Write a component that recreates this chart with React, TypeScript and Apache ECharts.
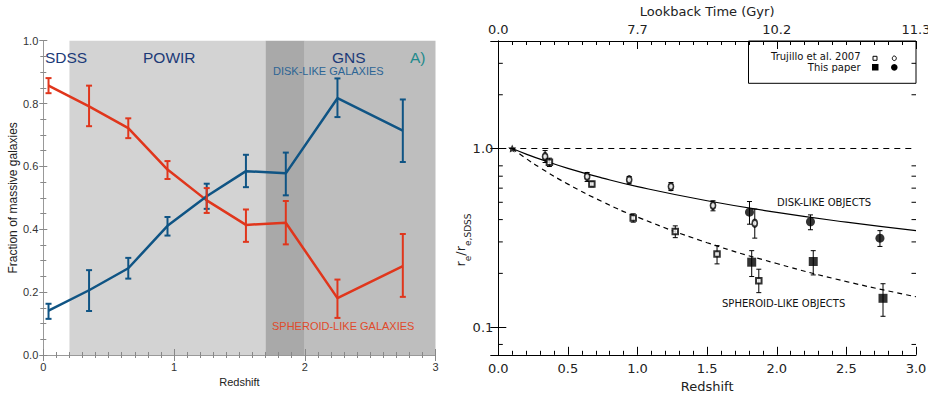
import React, { useEffect, useRef } from "react";
import * as echarts from "echarts";

// ---------- Left panel: fraction of massive galaxies ----------
const leftZ = [0.04, 0.35, 0.65, 0.95, 1.25, 1.55, 1.855, 2.25, 2.75];
const spheroidFrac = [0.857, 0.791, 0.722, 0.59, 0.492, 0.414, 0.421, 0.181, 0.283];
const spheroidLo = [0.833, 0.728, 0.69, 0.56, 0.452, 0.36, 0.352, 0.118, 0.185];
const spheroidHi = [0.881, 0.857, 0.753, 0.617, 0.531, 0.463, 0.49, 0.24, 0.385];
const diskFrac = [0.141, 0.206, 0.276, 0.411, 0.505, 0.585, 0.578, 0.817, 0.714];
const diskLo = [0.115, 0.14, 0.243, 0.38, 0.465, 0.534, 0.508, 0.757, 0.614];
const diskHi = [0.163, 0.27, 0.309, 0.439, 0.545, 0.637, 0.644, 0.88, 0.813];
const surveyBands = [
  { from: 0.2, to: 1.7, color: "#d3d3d3" },
  { from: 1.7, to: 2.0, color: "#a9a9a9" },
  { from: 2.0, to: 3.0, color: "#bebebe" },
];

// ---------- Right panel: size evolution ----------
const truDiskZ = [0.336, 0.638, 0.94, 1.24, 1.542, 1.842];
const truDiskR = [0.902, 0.697, 0.668, 0.612, 0.48, 0.382];
const truDiskLo = [0.835, 0.654, 0.634, 0.582, 0.448, 0.315];
const truDiskHi = [0.974, 0.734, 0.697, 0.645, 0.51, 0.458];
const truSphZ = [0.367, 0.672, 0.969, 1.271, 1.571, 1.871];
const truSphR = [0.839, 0.632, 0.409, 0.343, 0.257, 0.182];
const truSphLo = [0.793, 0.61, 0.387, 0.317, 0.226, 0.156];
const truSphHi = [0.883, 0.655, 0.431, 0.369, 0.286, 0.211];
const ourDiskZ = [1.804, 2.242, 2.741];
const ourDiskR = [0.44, 0.389, 0.315];
const ourDiskLo = [0.377, 0.351, 0.283];
const ourDiskHi = [0.505, 0.425, 0.347];
const ourSphZ = [1.82, 2.262, 2.763];
const ourSphR = [0.231, 0.233, 0.145];
const ourSphLo = [0.192, 0.196, 0.115];
const ourSphHi = [0.268, 0.268, 0.175];
const fitZ = [0.1, 0.2, 0.3, 0.5, 0.75, 1.0, 1.5, 2.0, 2.5, 3.0];
const diskFit = [1.0, 0.931, 0.872, 0.775, 0.683, 0.612, 0.51, 0.439, 0.387, 0.347];
const sphFit = [1.0, 0.879, 0.781, 0.632, 0.503, 0.413, 0.297, 0.227, 0.18, 0.148];
const sdssRef = [[0.1, 1.0]];
const lookbackLabels = ["0.0", "7.7", "10.2", "11.3"];
const logMinorTicks = [0.08, 0.2, 0.3, 0.4, 0.5, 0.6, 0.7, 0.8, 2, 3];

const LF = "'Liberation Sans', Arial, sans-serif";
const RF = "'DejaVu Sans', sans-serif";
const RED = "#e0361c";
const BLUE = "#0f5484";
const STAR = "path://M0,-10L2.9,-4L9.5,-3.1L4.8,1.5L5.9,8.1L0,5L-5.9,8.1L-4.8,1.5L-9.5,-3.1L-2.9,-4Z";

function errSeries(xIdx: number, yIdx: number, zs: number[], lo: number[], hi: number[], color: string, width: number, cap: number, z: number) {
  return {
    type: "custom",
    xAxisIndex: xIdx,
    yAxisIndex: yIdx,
    z,
    silent: true,
    data: zs.map((x, i) => [x, lo[i], hi[i]]),
    encode: { x: 0, y: [1, 2] },
    renderItem: (_p: any, api: any) => {
      const x = api.value(0);
      const a = api.coord([x, api.value(1)]);
      const b = api.coord([x, api.value(2)]);
      const st = { stroke: color, lineWidth: width };
      return {
        type: "group",
        children: [
          { type: "line", shape: { x1: a[0], y1: a[1], x2: b[0], y2: b[1] }, style: st },
          { type: "line", shape: { x1: a[0] - cap, y1: a[1], x2: a[0] + cap, y2: a[1] }, style: st },
          { type: "line", shape: { x1: b[0] - cap, y1: b[1], x2: b[0] + cap, y2: b[1] }, style: st },
        ],
      };
    },
  };
}

function txt(text: string, x: number, y: number, size: number, color: string, family: string, align = "left") {
  return {
    type: "text",
    x,
    y,
    z: 20,
    silent: true,
    style: {
      text,
      fontSize: size,
      fontFamily: family,
      fill: color,
      align,
      verticalAlign: "middle",
      textAlign: align,
      textVerticalAlign: "middle",
    },
  };
}

export default function App() {
  const ref = useRef<HTMLDivElement>(null);
  useEffect(() => {
    if (!ref.current) return;
    const chart = echarts.init(ref.current, null, { renderer: "svg" });
    const grayLine = { lineStyle: { color: "#999", width: 1 } };
    const grayTick = (len: number) => ({ show: true, inside: true, length: len, lineStyle: { color: "#888" } });
    const blackTick = (len: number) => ({ show: true, inside: true, length: len, lineStyle: { color: "#000", width: 1 } });
    const leftLabel = { color: "#333", fontSize: 11, fontFamily: LF, showMinLabel: true, showMaxLabel: true, hideOverlap: false };
    const rightLabel = { color: "#222", fontSize: 13, fontFamily: RF };
    const leftRect = { left: 43.3, top: 40.7, width: 392.2, height: 314.3, outerBoundsMode: "none", containLabel: false };

    const option: any = {
      animation: false,
      backgroundColor: "#fff",
      grid: [
        { ...leftRect },
        { left: 498.3, top: 41, width: 417.7, height: 313.8, outerBoundsMode: "none", containLabel: false },
        { ...leftRect },
      ],
      xAxis: [
        {
          gridIndex: 0, type: "value", min: 0, max: 3, interval: 1, position: "bottom", z: 10,
          axisLine: grayLine, axisTick: grayTick(6),
          minorTick: { show: true, splitNumber: 10, length: 3, lineStyle: { color: "#888" } },
          splitLine: { show: false },
          axisLabel: { ...leftLabel, margin: 6, formatter: (v: number) => String(Math.round(v)) },
          name: "Redshift", nameLocation: "middle", nameGap: 17,
          nameTextStyle: { color: "#222", fontSize: 11, fontFamily: LF },
        },
        {
          gridIndex: 2, type: "value", min: 0, max: 3, interval: 1, position: "top", z: 10,
          axisLine: grayLine, axisTick: grayTick(6),
          minorTick: { show: true, splitNumber: 10, length: 3, lineStyle: { color: "#888" } },
          splitLine: { show: false }, axisLabel: { show: false },
        },
        {
          gridIndex: 1, type: "value", min: 0, max: 3, interval: 0.5, position: "bottom", z: 10,
          axisLine: { lineStyle: { color: "#000", width: 1 } }, axisTick: blackTick(8),
          minorTick: { show: true, splitNumber: 5, length: 4, lineStyle: { color: "#000" } },
          splitLine: { show: false },
          axisLabel: { ...rightLabel, margin: 7, formatter: (v: number) => v.toFixed(1) },
          name: "Redshift", nameLocation: "middle", nameGap: 22,
          nameTextStyle: { color: "#222", fontSize: 13, fontFamily: RF },
        },
        {
          gridIndex: 1, type: "value", min: 0, max: 3, interval: 1, position: "top", z: 10,
          axisLine: { lineStyle: { color: "#000", width: 1 } }, axisTick: blackTick(8),
          minorTick: { show: true, splitNumber: 10, length: 4, lineStyle: { color: "#000" } },
          splitLine: { show: false },
          axisLabel: { ...rightLabel, margin: 5, formatter: (v: number) => lookbackLabels[Math.round(v)] ?? "" },
          name: "Lookback Time (Gyr)", nameLocation: "middle", nameGap: 18,
          nameTextStyle: { color: "#222", fontSize: 13, fontFamily: RF },
        },
      ],
      yAxis: [
        {
          gridIndex: 0, type: "value", min: 0, max: 1, interval: 0.2, position: "left", z: 10,
          axisLine: { show: true, lineStyle: { color: "#bbb", width: 1 } }, axisTick: grayTick(4),
          minorTick: { show: true, splitNumber: 4, length: 3, lineStyle: { color: "#888" } },
          splitLine: { show: false },
          axisLabel: { ...leftLabel, margin: 5, formatter: (v: number) => v.toFixed(1) },
          name: "Fraction of massive galaxies", nameLocation: "middle", nameGap: 24,
          nameTextStyle: { color: "#222", fontSize: 12, fontFamily: LF },
        },
        {
          gridIndex: 2, type: "value", min: 0, max: 1, interval: 0.2, position: "right", z: 10,
          axisLine: { show: true, lineStyle: { color: "#999", width: 1 } }, axisTick: grayTick(4),
          minorTick: { show: true, splitNumber: 4, length: 3, lineStyle: { color: "#888" } },
          splitLine: { show: false }, axisLabel: { show: false },
        },
        {
          gridIndex: 1, type: "log", logBase: 10, min: 0.07, max: 4, position: "left", z: 10,
          axisLine: { show: true, lineStyle: { color: "#000", width: 1 } }, axisTick: blackTick(8),
          splitLine: { show: false },
          axisLabel: {
            ...rightLabel, margin: 5,
            formatter: (v: number) => (Math.abs(v - 1) < 1e-6 ? "1.0" : Math.abs(v - 0.1) < 1e-6 ? "0.1" : ""),
          },
        },
        {
          gridIndex: 1, type: "log", logBase: 10, min: 0.07, max: 4, position: "right", z: 10,
          axisLine: { show: true, lineStyle: { color: "#000", width: 1 } }, axisTick: blackTick(8),
          splitLine: { show: false }, axisLabel: { show: false },
        },
      ],
      series: [
        {
          type: "line", xAxisIndex: 0, yAxisIndex: 0, data: [], z: 0, silent: true,
          markArea: {
            silent: true,
            data: surveyBands.map((b) => [
              { xAxis: b.from, yAxis: 0, itemStyle: { color: b.color, opacity: 1 } },
              { xAxis: b.to, yAxis: 1 },
            ]),
          },
        },
        {
          type: "line", xAxisIndex: 0, yAxisIndex: 0, z: 3, showSymbol: false, symbol: "none",
          data: leftZ.map((x, i) => [x, spheroidFrac[i]]),
          lineStyle: { color: RED, width: 2.5 },
        },
        {
          type: "line", xAxisIndex: 0, yAxisIndex: 0, z: 3, showSymbol: false, symbol: "none",
          data: leftZ.map((x, i) => [x, diskFrac[i]]),
          lineStyle: { color: BLUE, width: 2.5 },
        },
        errSeries(0, 0, leftZ, diskLo, diskHi, BLUE, 2, 3, 4),
        errSeries(0, 0, leftZ, spheroidLo, spheroidHi, RED, 2, 3, 4),
        {
          type: "line", xAxisIndex: 2, yAxisIndex: 2, z: 3, smooth: true, showSymbol: false, symbol: "none",
          data: fitZ.map((x, i) => [x, diskFit[i]]),
          lineStyle: { color: "#000", width: 1.2 },
          markLine: {
            silent: true, symbol: ["none", "none"], label: { show: false },
            lineStyle: { color: "#000", width: 1, type: [6, 5] },
            data: [{ yAxis: 1 }],
          },
        },
        {
          type: "line", xAxisIndex: 2, yAxisIndex: 2, z: 3, smooth: true, showSymbol: false, symbol: "none",
          data: fitZ.map((x, i) => [x, sphFit[i]]),
          lineStyle: { color: "#000", width: 1.2, type: [5, 4] },
        },
        errSeries(2, 2, truDiskZ, truDiskLo, truDiskHi, "#000", 1, 2.5, 4),
        errSeries(2, 2, truSphZ, truSphLo, truSphHi, "#000", 1, 2.5, 4),
        errSeries(2, 2, ourDiskZ, ourDiskLo, ourDiskHi, "#000", 1, 2.5, 4),
        errSeries(2, 2, ourSphZ, ourSphLo, ourSphHi, "#000", 1, 2.5, 4),
        {
          type: "scatter", xAxisIndex: 2, yAxisIndex: 2, z: 5, symbol: "emptyCircle", symbolSize: [5, 7],
          data: truDiskZ.map((x, i) => [x, truDiskR[i]]),
          itemStyle: { color: "#000", borderColor: "#000", borderWidth: 1 },
        },
        {
          type: "scatter", xAxisIndex: 2, yAxisIndex: 2, z: 5, symbol: "emptyRect", symbolSize: 5.5,
          data: truSphZ.map((x, i) => [x, truSphR[i]]),
          itemStyle: { color: "#000", borderColor: "#000", borderWidth: 0.9 },
        },
        {
          type: "scatter", xAxisIndex: 2, yAxisIndex: 2, z: 5, symbol: "circle", symbolSize: 9,
          data: ourDiskZ.map((x, i) => [x, ourDiskR[i]]),
          itemStyle: { color: "#000" },
        },
        {
          type: "scatter", xAxisIndex: 2, yAxisIndex: 2, z: 5, symbol: "rect", symbolSize: 9,
          data: ourSphZ.map((x, i) => [x, ourSphR[i]]),
          itemStyle: { color: "#000" },
        },
        {
          type: "scatter", xAxisIndex: 2, yAxisIndex: 2, z: 5, symbol: STAR, symbolSize: 8,
          data: sdssRef, itemStyle: { color: "#000" },
        },
        {
          type: "custom", xAxisIndex: 2, yAxisIndex: 2, z: 6, silent: true,
          data: logMinorTicks.map((v) => [0, v]),
          encode: { x: 0, y: 1 },
          renderItem: (_p: any, api: any) => {
            const v = api.value(1);
            const a = api.coord([0, v]);
            const b = api.coord([3, v]);
            const st = { stroke: "#000", lineWidth: 1 };
            return {
              type: "group",
              children: [
                { type: "line", shape: { x1: a[0], y1: a[1], x2: a[0] + 4.5, y2: a[1] }, style: st },
                { type: "line", shape: { x1: b[0] - 4.5, y1: b[1], x2: b[0], y2: b[1] }, style: st },
              ],
            };
          },
        },
      ],
      graphic: [
        txt("SDSS", 45, 57, 15.5, "#1b3a78", LF),
        txt("POWIR", 143, 57, 15.5, "#1b3a78", LF),
        txt("GNS", 332, 57, 15.5, "#1b3a78", LF),
        txt("A)", 410, 57, 15.5, "#1f8a8c", LF),
        txt("DISK-LIKE GALAXIES", 273, 71, 11, "#2c6595", LF),
        txt("SPHEROID-LIKE GALAXIES", 272, 326, 11, "#e04a2a", LF),
        txt("DISK-LIKE OBJECTS", 777, 202, 10, "#111", RF),
        txt("SPHEROID-LIKE OBJECTS", 722, 303, 10, "#111", RF),
        {
          type: "rect", z: 1, silent: true,
          shape: { x: 748.5, y: 41, width: 167.5, height: 42.3 },
          style: { fill: "none", stroke: "#000", lineWidth: 1 },
        },
        txt("Trujillo et al. 2007", 860.5, 56.8, 10, "#111", RF, "right"),
        txt("This paper", 860.5, 67.6, 10, "#111", RF, "right"),
        { type: "rect", z: 20, shape: { x: 873, y: 56.3, width: 4, height: 4 }, style: { fill: "#fff", stroke: "#000", lineWidth: 1 } },
        { type: "ellipse", z: 20, shape: { cx: 894.3, cy: 58.3, rx: 2, ry: 2.3 }, style: { fill: "#fff", stroke: "#000", lineWidth: 1 } },
        { type: "rect", z: 20, shape: { x: 872, y: 64, width: 6.5, height: 6.5 }, style: { fill: "#000" } },
        { type: "circle", z: 20, shape: { cx: 894.3, cy: 67.3, r: 3.3 }, style: { fill: "#000" } },
        {
          type: "text", x: 463, y: 240, rotation: Math.PI / 2, z: 20, silent: true,
          style: {
            text: "{a|r}{s|e}{a|/r}{s|e,SDSS}",
            align: "center", verticalAlign: "middle", textAlign: "center", textVerticalAlign: "middle",
            rich: {
              a: { fontSize: 13, fontFamily: RF, fill: "#222", lineHeight: 18, verticalAlign: "top" },
              s: { fontSize: 9, fontFamily: RF, fill: "#222", lineHeight: 18, verticalAlign: "bottom" },
            },
          },
        },
      ],
    };
    chart.setOption(option);
    return () => chart.dispose();
  }, []);
  return <div ref={ref} style={{ position: "fixed", left: 0, top: 0, width: 928, height: 394 }} />;
}
